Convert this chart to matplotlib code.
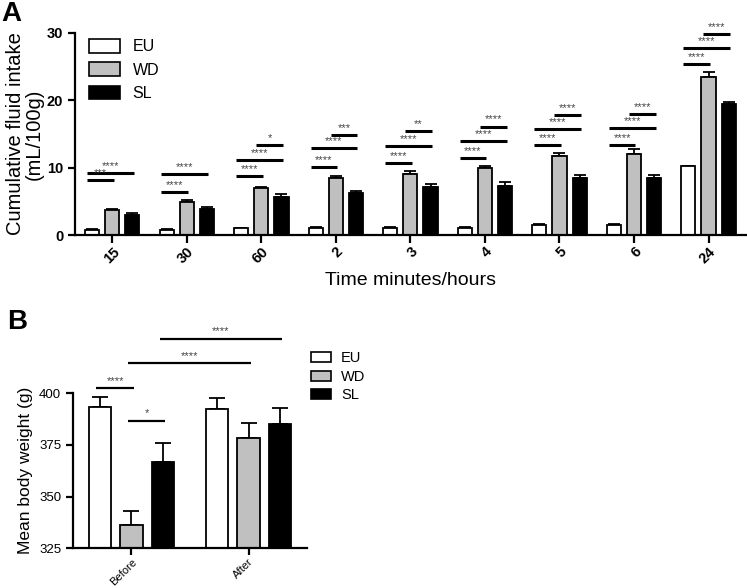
import numpy as np
import matplotlib
matplotlib.use("Agg")
import matplotlib.pyplot as plt
from matplotlib.patches import Patch

plt.rcParams['font.family'] = ['Liberation Sans', 'DejaVu Sans']

# panel A: cumulative fluid intake
groups_a = ['15', '30', '60', '2', '3', '4', '5', '6', '24']
eu_a = [0.75, 0.8, 1.0, 1.1, 1.1, 1.1, 1.5, 1.5, 10.2]
eu_a_err = [0.1, 0.1, 0.1, 0.1, 0.1, 0.1, 0.1, 0.1, 0.1]
wd_a = [3.7, 4.9, 7.0, 8.4, 9.0, 10.0, 11.8, 12.1, 23.5]
wd_a_err = [0.15, 0.3, 0.2, 0.4, 0.5, 0.3, 0.4, 0.7, 0.7]
sl_a = [2.9, 3.8, 5.6, 6.2, 7.1, 7.3, 8.5, 8.5, 19.4]
sl_a_err = [0.4, 0.4, 0.5, 0.3, 0.5, 0.5, 0.4, 0.4, 0.4]
# (group, bar from, bar to, height, label)
sig_a = [
    (0, 0, 1, 8.1, '***'), (0, 0, 2, 9.2, '****'),
    (1, 0, 1, 6.4, '****'), (1, 0, 2, 9.1, '****'),
    (2, 0, 1, 8.7, '****'), (2, 0, 2, 11.1, '****'), (2, 1, 2, 13.4, '*'),
    (3, 0, 1, 10.1, '****'), (3, 0, 2, 12.9, '****'), (3, 1, 2, 14.9, '***'),
    (4, 0, 1, 10.7, '****'), (4, 0, 2, 13.2, '****'), (4, 1, 2, 15.4, '**'),
    (5, 0, 1, 11.4, '****'), (5, 0, 2, 13.9, '****'), (5, 1, 2, 16.1, '****'),
    (6, 0, 1, 13.3, '****'), (6, 0, 2, 15.7, '****'), (6, 1, 2, 17.8, '****'),
    (7, 0, 1, 13.4, '****'), (7, 0, 2, 15.9, '****'), (7, 1, 2, 18.0, '****'),
    (8, 0, 1, 25.4, '****'), (8, 0, 2, 27.7, '****'), (8, 1, 2, 29.9, '****'),
]

# panel B: body weight
groups_b = ['Before', 'After']
eu_b = [393.2, 392.6]
eu_b_err = [4.9, 5.3]
wd_b = [336.1, 378.2]
wd_b_err = [7.1, 7.4]
sl_b = [366.8, 385.3]
sl_b_err = [9.3, 7.6]
# (group from, bar from, group to, bar to, height, label)
sig_b = [
    (0, 0, 0, 1, 402.4, '****'),
    (0, 1, 0, 2, 386.8, '*'),
    (0, 1, 1, 1, 414.5, '****'),
    (0, 2, 1, 2, 426.3, '****'),
]

names = ['EU', 'WD', 'SL']
colors = ['white', '#c0c0c0', 'black']
width = 0.19
step = 0.27


def style_axes(ax, tick_size):
    for s in ['top', 'right']:
        ax.spines[s].set_visible(False)
    for s in ['left', 'bottom']:
        ax.spines[s].set_linewidth(1.6)
    ax.tick_params(width=1.6, length=5, labelsize=tick_size)


def draw_bars(ax, vals, errs, capsize):
    x = np.arange(len(vals[0]))
    for k in range(3):
        pos = x + (k - 1) * step
        ax.bar(pos, vals[k], width, color=colors[k], edgecolor='black',
               linewidth=1.3, zorder=2)
        ax.errorbar(pos, vals[k], yerr=[np.zeros(len(errs[k])), errs[k]],
                    fmt='none', ecolor='black', elinewidth=1.3,
                    capsize=capsize, capthick=1.3, zorder=1)


fig = plt.figure(figsize=(7.47, 5.88), dpi=100)

# ---- A ----
ax = fig.add_axes([0.1004, 0.6003, 0.898, 0.3436])
draw_bars(ax, [eu_a, wd_a, sl_a], [eu_a_err, wd_a_err, sl_a_err], 4)
ax.set_xlim(-0.5, 8.5)
ax.set_ylim(0, 30)
ax.set_yticks([0, 10, 20, 30])
ax.set_xticks(np.arange(len(groups_a)))
ax.set_xticklabels(groups_a, rotation=45, ha='right', rotation_mode='anchor',
                   fontweight='bold')
for lab in ax.get_yticklabels():
    lab.set_fontweight('bold')
style_axes(ax, 10.5)
ax.tick_params(axis='x', length=6, pad=1)
ax.set_ylabel('Cumulative fluid intake\n(mL/100g)', fontsize=14.5, linespacing=1.0,
              labelpad=2)
ax.set_xlabel('Time minutes/hours', fontsize=14, labelpad=4)
for g, a, b, h, lab in sig_a:
    x1 = g + (a - 1) * step - 0.07
    x2 = g + (b - 1) * step + 0.02
    ax.plot([x1, x2], [h, h], color='black', lw=2.2, solid_capstyle='butt',
            clip_on=False)
    ax.text((x1 + x2) / 2, h + 0.3, lab, ha='center', va='bottom',
            fontsize=8, color='#444444')
handles = [Patch(facecolor=c, edgecolor='black', linewidth=1.2) for c in colors]
ax.legend(handles, names, loc='upper left', bbox_to_anchor=(0.0, 1.04),
          frameon=False, fontsize=11.5, handlelength=1.9, handleheight=0.9,
          labelspacing=0.5, handletextpad=0.8)
fig.text(0.002, 0.998, 'A', fontsize=20, fontweight='bold', va='top')

# ---- B ----
ax2 = fig.add_axes([0.0977, 0.0675, 0.3133, 0.2636])
draw_bars(ax2, [eu_b, wd_b, sl_b], [eu_b_err, wd_b_err, sl_b_err], 5.5)
ax2.set_xlim(-0.5, 1.5)
ax2.set_ylim(325, 400)
ax2.set_yticks([325, 350, 375, 400])
ax2.set_xticks(np.arange(len(groups_b)))
ax2.set_xticklabels(groups_b, rotation=45, ha='right', rotation_mode='anchor',
                    fontsize=8)
style_axes(ax2, 9.5)
ax2.tick_params(axis='x', labelsize=8, pad=1)
ax2.set_ylabel('Mean body weight (g)', fontsize=12.5)
for g1, a, g2, b, h, lab in sig_b:
    x1 = g1 + (a - 1) * step - 0.03
    x2 = g2 + (b - 1) * step + 0.02
    ax2.plot([x1, x2], [h, h], color='black', lw=1.6, solid_capstyle='butt',
             clip_on=False)
    ax2.text((x1 + x2) / 2, h + 1.2, lab, ha='center', va='bottom',
             fontsize=8, color='#444444', clip_on=False)
ax2.legend(handles, names, loc='upper left', bbox_to_anchor=(1.015, 1.27),
           frameon=False, fontsize=10.5, handlelength=1.4, handleheight=0.7,
           labelspacing=0.3, handletextpad=0.7, borderpad=0, borderaxespad=0)
fig.text(0.01, 0.475, 'B', fontsize=20, fontweight='bold', va='top')

fig.savefig('out.png', dpi=100)
